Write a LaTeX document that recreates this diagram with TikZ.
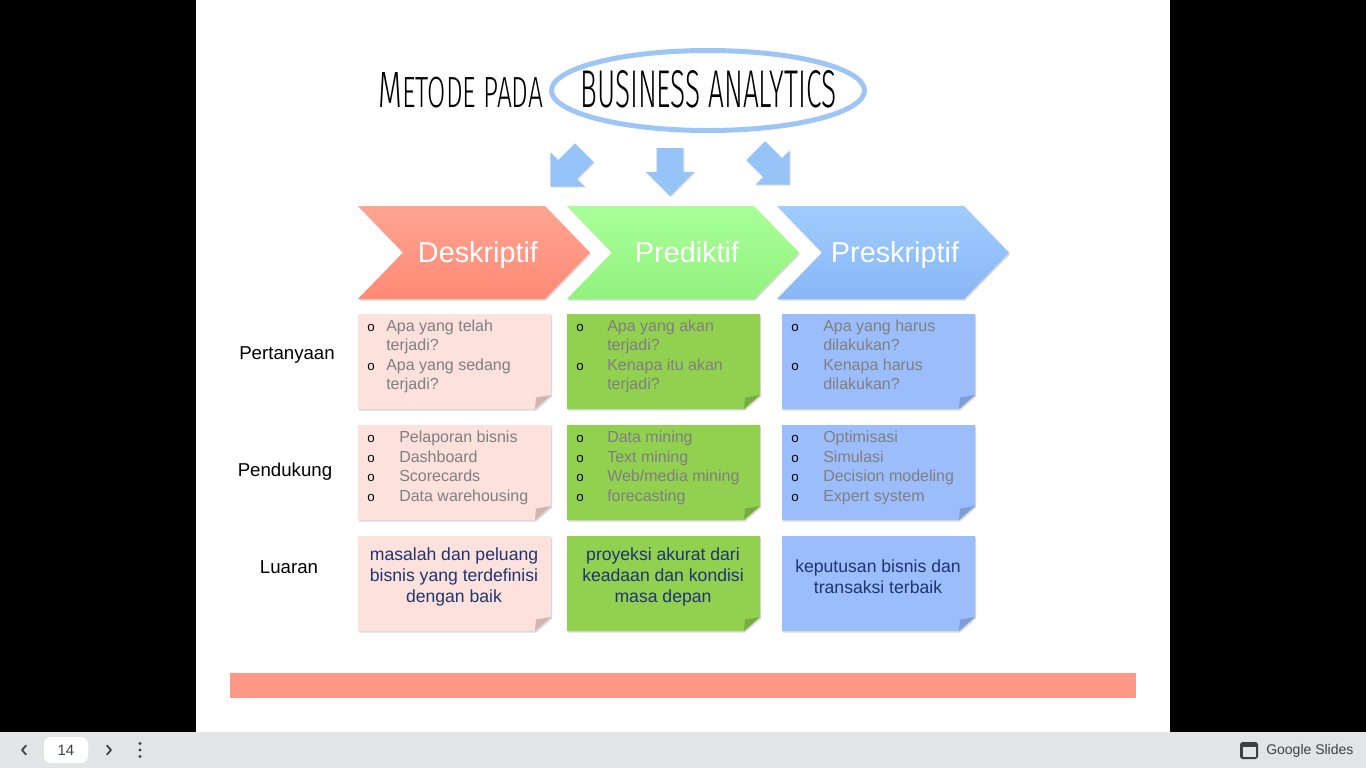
\documentclass[tikz,border=0pt]{standalone}
\usepackage{fontspec}
\setmainfont{Liberation Sans}
\IfFontExistsTF{Fira Sans Light}{\newfontfamily\ttlfont{Fira Sans Light}}{\newfontfamily\ttlfont{Liberation Sans}}
\usetikzlibrary{shapes.geometric,shapes.arrows,shadows}
\definecolor{chevRtop}{HTML}{FFA492}
\definecolor{chevRbot}{HTML}{FF8A76}
\definecolor{chevGtop}{HTML}{A9FF98}
\definecolor{chevGbot}{HTML}{92F27E}
\definecolor{chevBtop}{HTML}{A0CDFF}
\definecolor{chevBbot}{HTML}{88B6F6}
\definecolor{noteR}{HTML}{FDE1DD}
\definecolor{foldR}{HTML}{D3B4AF}
\definecolor{noteG}{HTML}{92D050}
\definecolor{foldG}{HTML}{77AD40}
\definecolor{noteB}{HTML}{9BBDFB}
\definecolor{foldB}{HTML}{7E9DD6}
\definecolor{ellblue}{HTML}{9DC6F6}
\definecolor{arrowblue}{HTML}{97C4F8}
\definecolor{textgray}{HTML}{7F7F7F}
\definecolor{navy}{HTML}{1F3470}
\definecolor{barbg}{HTML}{E3E4E6}
\definecolor{salmon}{HTML}{FF9886}
\definecolor{uigray}{HTML}{3C4043}

\tikzset{
  notesh/.style={drop shadow={opacity=0.3,shadow xshift=0.8pt,shadow yshift=-1.2pt}},
  chevtext/.style={anchor=base,text=white,font=\fontsize{21.6}{24}\selectfont,inner sep=0pt},
  rowlabel/.style={text=black,font=\fontsize{14}{16}\selectfont,inner sep=0pt},
  listtext/.style={anchor=base west,inner sep=0pt,text=textgray,font=\fontsize{12}{14}\selectfont},
  bulletmark/.style={anchor=base,inner sep=0pt,text=black,font=\fontsize{10}{11}\selectfont},
  outtext/.style={align=center,inner sep=0pt,text=navy,font=\fontsize{13.2}{15.75}\selectfont},
  blockarrow/.style={single arrow,fill=arrowblue,minimum height=36pt,inner xsep=0pt,
    inner ysep=9.75pt,single arrow head extend=8.25pt,single arrow tip angle=90,
    drop shadow={opacity=0.25,shadow xshift=0.8pt,shadow yshift=-0.8pt}},
}

\newcommand\stickynote[6]{%
  \path[fill=#5,notesh] (#1,#2) -- (#3,#2) -- (#3,#4-14) -- (#3-16,#4) -- (#1,#4) -- cycle;
  \fill[#6] (#3,#4-14) -- (#3-15,#4-11.5) -- (#3-16,#4) -- cycle;}

\newcommand\chevshape[3]{%
  \path[top color=#2,bottom color=#3,notesh] (#1,206) -- (#1+187,206) -- (#1+232,252.5)
    -- (#1+187,299) -- (#1,299) -- (#1+45,252.5) -- cycle;}

\newcommand\listlines[5]{%
  \foreach \bul/\txt [count=\i] in {#5} {
    \node[listtext] (#1-\i) at (#3,#4+19.5*\i-19.5) {\txt};
    \ifnum\bul=1 \node[bulletmark] (#1-b\i) at (#2,#4+19.5*\i-19.5) {o};\fi
  }}

\begin{document}
\begin{tikzpicture}[x=0.75pt,y=-0.75pt]
\useasboundingbox (0,0) rectangle (1366,768);
% frame
\fill[black] (0,0) rectangle (1366,732);
\fill[white] (196,0) rectangle (1170,732);
\fill[barbg] (0,732) rectangle (1366,768);

% title
\node[anchor=base west,inner sep=0pt] (t1) at (378,107)
  {\resizebox{123.75pt}{26.25pt}{\ttlfont\fontsize{11.7}{12}\selectfont M\fontsize{10}{12}\selectfont ETODE PADA}};
\node[ellipse,draw=ellblue,line width=3.75pt,minimum width=234.75pt,minimum height=60pt,inner sep=0pt] (ell) at (708,90.5) {};
\node[anchor=base west,inner sep=0pt] (t2) at (580,107)
  {\resizebox{192pt}{27.75pt}{\ttlfont BUSINESS ANALYTICS}};

% arrows
\node[blockarrow,rotate=-135] (a1) at (572,165) {};
\node[blockarrow,rotate=-90] (a2) at (670,165.5) {};
\node[blockarrow,rotate=-45] (a3) at (768,163) {};

% chevrons
\chevshape{358}{chevRtop}{chevRbot}
\chevshape{567}{chevGtop}{chevGbot}
\chevshape{777}{chevBtop}{chevBbot}
\node[chevtext] (desk) at (478,262) {Deskriptif};
\node[chevtext] (pred) at (687,262) {Prediktif};
\node[chevtext] (pres) at (895,262) {Preskriptif};

% row labels
\node[rowlabel] (pert) at (287,355) {Pertanyaan};
\node[rowlabel] (pend) at (285,472) {Pendukung};
\node[rowlabel] (luar) at (289,567) {Luaran};

% notes
\stickynote{358}{314}{551}{409}{noteR}{foldR}
\stickynote{567}{314}{760}{409}{noteG}{foldG}
\stickynote{782}{314}{975}{409}{noteB}{foldB}
\stickynote{358}{425}{551}{520}{noteR}{foldR}
\stickynote{567}{425}{760}{520}{noteG}{foldG}
\stickynote{782}{425}{975}{520}{noteB}{foldB}
\stickynote{358}{536}{551}{631}{noteR}{foldR}
\stickynote{567}{536}{760}{631}{noteG}{foldG}
\stickynote{782}{536}{975}{631}{noteB}{foldB}

% lists
\listlines{q1}{371}{386}{331}{1/Apa yang telah,0/terjadi?,1/Apa yang sedang,0/terjadi?}
\listlines{q2}{580}{607}{331}{1/Apa yang akan,0/terjadi?,1/Kenapa itu akan,0/terjadi?}
\listlines{q3}{795}{823}{331}{1/Apa yang harus,0/dilakukan?,1/Kenapa harus,0/dilakukan?}
\listlines{s1}{371}{399}{442.5}{1/Pelaporan bisnis,1/Dashboard,1/Scorecards,1/Data warehousing}
\listlines{s2}{580}{607}{442.5}{1/Data mining,1/Text mining,1/{Web/media mining},1/forecasting}
\listlines{s3}{795}{823}{442.5}{1/Optimisasi,1/Simulasi,1/Decision modeling,1/Expert system}

% outputs
\node[outtext] (o1) at (454,577) {masalah dan peluang\\bisnis yang terdefinisi\\dengan baik};
\node[outtext] (o2) at (663,577) {proyeksi akurat dari\\keadaan dan kondisi\\masa depan};
\node[outtext] (o3) at (878,576.5) {keputusan bisnis dan\\transaksi terbaik};

% bottom bar
\fill[salmon] (230,673) rectangle (1136,698);

% viewer chrome
\draw[uigray,line width=1.3pt,line cap=round,line join=round] (26,745.5) -- (22,750) -- (26,754.5);
\draw[uigray,line width=1.3pt,line cap=round,line join=round] (107,745.5) -- (111,750) -- (107,754.5);
\fill[uigray] (140,743.5) circle[radius=1.7] (140,750) circle[radius=1.7] (140,756.5) circle[radius=1.7];
\node[fill=white,rounded corners=5pt,minimum width=33pt,minimum height=19.5pt,inner sep=0pt,
  text=uigray,font=\fontsize{11.25}{12}\selectfont] (pg) at (66,750) {14};
\fill[uigray,rounded corners=2pt] (1240,742) rectangle (1258,759);
\fill[barbg] (1242.5,746.5) rectangle (1255.5,756.5);
\node[anchor=west,inner sep=0pt,text=uigray,font=\fontsize{10.5}{12}\selectfont] (gs) at (1266,750.5) {Google Slides};
\end{tikzpicture}
\end{document}
